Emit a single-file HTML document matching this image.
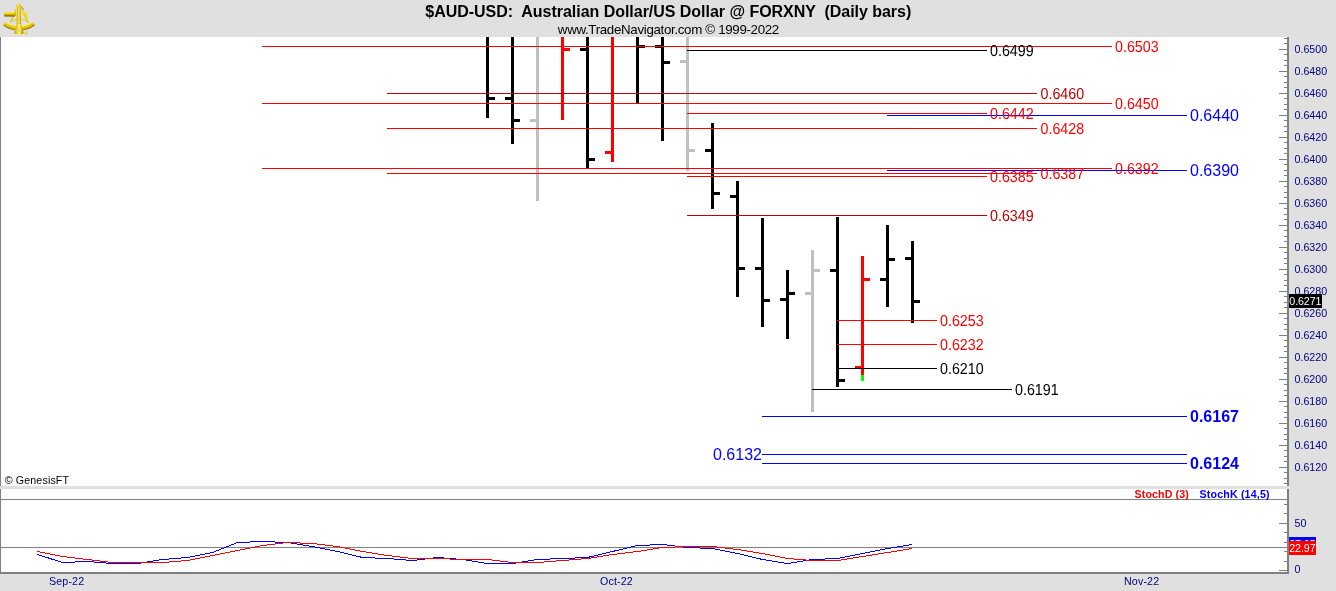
<!DOCTYPE html>
<html lang="en"><head><meta charset="utf-8">
<title>$AUD-USD: Australian Dollar/US Dollar @ FORXNY (Daily bars)</title>
<style>
html,body{margin:0;padding:0;background:#fff;overflow:hidden;}
body{width:1336px;height:591px;position:relative;font-family:"Liberation Sans", Arial, sans-serif;}
svg{position:absolute;left:0;top:0;display:block;}
text{font-family:"Liberation Sans", Arial, sans-serif;}
.ax{font-size:10.67px;fill:#000080;}
.lv{font-size:15.9px;text-rendering:geometricPrecision;}
.lb{font-size:16px;fill:#0000ff;}
.bb{font-size:16px;fill:#0000ff;font-weight:bold;}
</style></head><body>
<svg width="1336" height="591" viewBox="0 0 1336 591">
<rect x="0" y="0" width="1336" height="591" fill="#ffffff"/>
<g shape-rendering="crispEdges">
<rect x="0" y="0" width="1336" height="37" fill="#e0e0e0"/>
<rect x="1289" y="37" width="47" height="554" fill="#e0e0e0"/>
<rect x="0" y="574" width="1336" height="17" fill="#e0e0e0"/>
<rect x="0" y="486" width="1289" height="3" fill="#e0e0e0"/>
<rect x="0" y="37" width="1" height="449" fill="#808080"/>
<rect x="0" y="489" width="1" height="85" fill="#808080"/>
</g>
<g shape-rendering="crispEdges">
<rect x="486" y="37" width="3" height="81" fill="#000000"/>
<rect x="489" y="97" width="6" height="3" fill="#000000"/>
<rect x="511" y="37" width="3" height="107" fill="#000000"/>
<rect x="505" y="97" width="6" height="3" fill="#000000"/>
<rect x="514" y="119" width="6" height="3" fill="#000000"/>
<rect x="536" y="37" width="3" height="164" fill="#c0c0c0"/>
<rect x="530" y="119" width="6" height="3" fill="#c0c0c0"/>
<rect x="561" y="37" width="3" height="83" fill="#ff0000"/>
<rect x="564" y="48" width="6" height="3" fill="#ff0000"/>
<rect x="586" y="37" width="3" height="131" fill="#000000"/>
<rect x="580" y="48" width="6" height="3" fill="#000000"/>
<rect x="589" y="158" width="6" height="3" fill="#000000"/>
<rect x="611" y="37" width="3" height="125" fill="#ff0000"/>
<rect x="605" y="151" width="6" height="3" fill="#ff0000"/>
<rect x="636" y="37" width="3" height="66" fill="#000000"/>
<rect x="639" y="45" width="6" height="3" fill="#000000"/>
<rect x="661" y="37" width="3" height="104" fill="#000000"/>
<rect x="655" y="45" width="6" height="3" fill="#000000"/>
<rect x="664" y="61" width="6" height="3" fill="#000000"/>
<rect x="686" y="37" width="3" height="134" fill="#c0c0c0"/>
<rect x="680" y="60" width="6" height="3" fill="#c0c0c0"/>
<rect x="689" y="149" width="6" height="3" fill="#c0c0c0"/>
<rect x="711" y="123" width="3" height="86" fill="#000000"/>
<rect x="705" y="149" width="6" height="3" fill="#000000"/>
<rect x="714" y="192" width="6" height="3" fill="#000000"/>
<rect x="736" y="181" width="3" height="116" fill="#000000"/>
<rect x="730" y="195" width="6" height="3" fill="#000000"/>
<rect x="739" y="267" width="6" height="3" fill="#000000"/>
<rect x="761" y="218" width="3" height="109" fill="#000000"/>
<rect x="755" y="267" width="6" height="3" fill="#000000"/>
<rect x="764" y="299" width="6" height="3" fill="#000000"/>
<rect x="786" y="270" width="3" height="69" fill="#000000"/>
<rect x="780" y="298" width="6" height="3" fill="#000000"/>
<rect x="789" y="292" width="6" height="3" fill="#000000"/>
<rect x="811" y="250" width="3" height="162" fill="#c0c0c0"/>
<rect x="805" y="292" width="6" height="3" fill="#c0c0c0"/>
<rect x="814" y="269" width="6" height="3" fill="#c0c0c0"/>
<rect x="836" y="217" width="3" height="170" fill="#000000"/>
<rect x="830" y="269" width="6" height="3" fill="#000000"/>
<rect x="839" y="379" width="6" height="3" fill="#000000"/>
<rect x="861" y="256" width="3" height="119" fill="#ff0000"/>
<rect x="855" y="366" width="6" height="3" fill="#ff0000"/>
<rect x="864" y="278" width="6" height="3" fill="#ff0000"/>
<rect x="886" y="225" width="3" height="82" fill="#000000"/>
<rect x="880" y="278" width="6" height="3" fill="#000000"/>
<rect x="889" y="258" width="6" height="3" fill="#000000"/>
<rect x="911" y="241" width="3" height="82" fill="#000000"/>
<rect x="905" y="257" width="6" height="3" fill="#000000"/>
<rect x="914" y="300" width="6" height="3" fill="#000000"/>
<rect x="861" y="375" width="3" height="6" fill="#00ff00"/>
</g>
<g shape-rendering="crispEdges">
<rect x="262" y="46" width="850" height="1" fill="#ff0000"/>
<rect x="687" y="50" width="300" height="1" fill="#000000"/>
<rect x="387" y="93" width="650" height="1" fill="#c00000"/>
<rect x="262" y="103" width="850" height="1" fill="#ff0000"/>
<rect x="687" y="113" width="300" height="1" fill="#ff0000"/>
<rect x="887" y="115" width="300" height="1" fill="#0000ff"/>
<rect x="387" y="128" width="650" height="1" fill="#ff0000"/>
<rect x="262" y="168" width="850" height="1" fill="#ff0000"/>
<rect x="887" y="170" width="300" height="1" fill="#0000ff"/>
<rect x="387" y="173" width="650" height="1" fill="#ff0000"/>
<rect x="687" y="176" width="300" height="1" fill="#ff0000"/>
<rect x="687" y="215" width="300" height="1" fill="#c00000"/>
<rect x="837" y="320" width="100" height="1" fill="#ff0000"/>
<rect x="837" y="344" width="100" height="1" fill="#ff0000"/>
<rect x="837" y="368" width="100" height="1" fill="#000000"/>
<rect x="812" y="389" width="200" height="1" fill="#000000"/>
<rect x="762" y="416" width="425" height="1" fill="#0000ff"/>
<rect x="762" y="454" width="425" height="1" fill="#0000ff"/>
<rect x="762" y="463" width="425" height="1" fill="#0000ff"/>
</g>
<g shape-rendering="crispEdges">
<rect x="1287" y="37" width="2" height="449" fill="#808080"/>
<rect x="1284" y="38" width="3" height="1" fill="#808080"/>
<rect x="1284" y="43" width="3" height="1" fill="#808080"/>
<rect x="1279" y="49" width="8" height="1" fill="#808080"/>
<rect x="1284" y="54" width="3" height="1" fill="#808080"/>
<rect x="1284" y="60" width="3" height="1" fill="#808080"/>
<rect x="1284" y="65" width="3" height="1" fill="#808080"/>
<rect x="1279" y="71" width="8" height="1" fill="#808080"/>
<rect x="1284" y="76" width="3" height="1" fill="#808080"/>
<rect x="1284" y="82" width="3" height="1" fill="#808080"/>
<rect x="1284" y="87" width="3" height="1" fill="#808080"/>
<rect x="1279" y="93" width="8" height="1" fill="#808080"/>
<rect x="1284" y="98" width="3" height="1" fill="#808080"/>
<rect x="1284" y="104" width="3" height="1" fill="#808080"/>
<rect x="1284" y="109" width="3" height="1" fill="#808080"/>
<rect x="1279" y="115" width="8" height="1" fill="#808080"/>
<rect x="1284" y="120" width="3" height="1" fill="#808080"/>
<rect x="1284" y="126" width="3" height="1" fill="#808080"/>
<rect x="1284" y="131" width="3" height="1" fill="#808080"/>
<rect x="1279" y="137" width="8" height="1" fill="#808080"/>
<rect x="1284" y="142" width="3" height="1" fill="#808080"/>
<rect x="1284" y="148" width="3" height="1" fill="#808080"/>
<rect x="1284" y="153" width="3" height="1" fill="#808080"/>
<rect x="1279" y="159" width="8" height="1" fill="#808080"/>
<rect x="1284" y="164" width="3" height="1" fill="#808080"/>
<rect x="1284" y="170" width="3" height="1" fill="#808080"/>
<rect x="1284" y="175" width="3" height="1" fill="#808080"/>
<rect x="1279" y="181" width="8" height="1" fill="#808080"/>
<rect x="1284" y="186" width="3" height="1" fill="#808080"/>
<rect x="1284" y="192" width="3" height="1" fill="#808080"/>
<rect x="1284" y="197" width="3" height="1" fill="#808080"/>
<rect x="1279" y="203" width="8" height="1" fill="#808080"/>
<rect x="1284" y="208" width="3" height="1" fill="#808080"/>
<rect x="1284" y="214" width="3" height="1" fill="#808080"/>
<rect x="1284" y="219" width="3" height="1" fill="#808080"/>
<rect x="1279" y="225" width="8" height="1" fill="#808080"/>
<rect x="1284" y="230" width="3" height="1" fill="#808080"/>
<rect x="1284" y="236" width="3" height="1" fill="#808080"/>
<rect x="1284" y="241" width="3" height="1" fill="#808080"/>
<rect x="1279" y="247" width="8" height="1" fill="#808080"/>
<rect x="1284" y="252" width="3" height="1" fill="#808080"/>
<rect x="1284" y="258" width="3" height="1" fill="#808080"/>
<rect x="1284" y="263" width="3" height="1" fill="#808080"/>
<rect x="1279" y="269" width="8" height="1" fill="#808080"/>
<rect x="1284" y="274" width="3" height="1" fill="#808080"/>
<rect x="1284" y="280" width="3" height="1" fill="#808080"/>
<rect x="1284" y="285" width="3" height="1" fill="#808080"/>
<rect x="1279" y="291" width="8" height="1" fill="#808080"/>
<rect x="1284" y="296" width="3" height="1" fill="#808080"/>
<rect x="1284" y="302" width="3" height="1" fill="#808080"/>
<rect x="1284" y="307" width="3" height="1" fill="#808080"/>
<rect x="1279" y="313" width="8" height="1" fill="#808080"/>
<rect x="1284" y="318" width="3" height="1" fill="#808080"/>
<rect x="1284" y="324" width="3" height="1" fill="#808080"/>
<rect x="1284" y="329" width="3" height="1" fill="#808080"/>
<rect x="1279" y="335" width="8" height="1" fill="#808080"/>
<rect x="1284" y="340" width="3" height="1" fill="#808080"/>
<rect x="1284" y="346" width="3" height="1" fill="#808080"/>
<rect x="1284" y="351" width="3" height="1" fill="#808080"/>
<rect x="1279" y="357" width="8" height="1" fill="#808080"/>
<rect x="1284" y="362" width="3" height="1" fill="#808080"/>
<rect x="1284" y="368" width="3" height="1" fill="#808080"/>
<rect x="1284" y="373" width="3" height="1" fill="#808080"/>
<rect x="1279" y="379" width="8" height="1" fill="#808080"/>
<rect x="1284" y="384" width="3" height="1" fill="#808080"/>
<rect x="1284" y="390" width="3" height="1" fill="#808080"/>
<rect x="1284" y="395" width="3" height="1" fill="#808080"/>
<rect x="1279" y="401" width="8" height="1" fill="#808080"/>
<rect x="1284" y="406" width="3" height="1" fill="#808080"/>
<rect x="1284" y="412" width="3" height="1" fill="#808080"/>
<rect x="1284" y="417" width="3" height="1" fill="#808080"/>
<rect x="1279" y="423" width="8" height="1" fill="#808080"/>
<rect x="1284" y="428" width="3" height="1" fill="#808080"/>
<rect x="1284" y="434" width="3" height="1" fill="#808080"/>
<rect x="1284" y="439" width="3" height="1" fill="#808080"/>
<rect x="1279" y="445" width="8" height="1" fill="#808080"/>
<rect x="1284" y="450" width="3" height="1" fill="#808080"/>
<rect x="1284" y="456" width="3" height="1" fill="#808080"/>
<rect x="1284" y="461" width="3" height="1" fill="#808080"/>
<rect x="1279" y="467" width="8" height="1" fill="#808080"/>
<rect x="1284" y="472" width="3" height="1" fill="#808080"/>
<rect x="1284" y="478" width="3" height="1" fill="#808080"/>
<rect x="1284" y="483" width="3" height="1" fill="#808080"/>
</g>
<text class="ax" x="1294.5" y="53.3">0.6500</text>
<text class="ax" x="1294.5" y="75.3">0.6480</text>
<text class="ax" x="1294.5" y="97.3">0.6460</text>
<text class="ax" x="1294.5" y="119.3">0.6440</text>
<text class="ax" x="1294.5" y="141.3">0.6420</text>
<text class="ax" x="1294.5" y="163.3">0.6400</text>
<text class="ax" x="1294.5" y="185.3">0.6380</text>
<text class="ax" x="1294.5" y="207.3">0.6360</text>
<text class="ax" x="1294.5" y="229.3">0.6340</text>
<text class="ax" x="1294.5" y="251.3">0.6320</text>
<text class="ax" x="1294.5" y="273.3">0.6300</text>
<text class="ax" x="1294.5" y="295.3">0.6280</text>
<text class="ax" x="1294.5" y="317.3">0.6260</text>
<text class="ax" x="1294.5" y="339.3">0.6240</text>
<text class="ax" x="1294.5" y="361.3">0.6220</text>
<text class="ax" x="1294.5" y="383.3">0.6200</text>
<text class="ax" x="1294.5" y="405.3">0.6180</text>
<text class="ax" x="1294.5" y="427.3">0.6160</text>
<text class="ax" x="1294.5" y="449.3">0.6140</text>
<text class="ax" x="1294.5" y="471.3">0.6120</text>
<rect x="1289" y="294" width="33" height="14" fill="#000000" shape-rendering="crispEdges"/>
<text x="1289.3" y="305" style="font-size:10.67px;fill:#ffffff;letter-spacing:-0.08px;">0.6271</text>
<text class="lv" transform="translate(1115.0,51.85) scale(0.897,1)" fill="#ff0000">0.6503</text>
<text class="lv" transform="translate(990.0,55.85) scale(0.897,1)" fill="#000000">0.6499</text>
<text class="lv" transform="translate(1040.5,98.85) scale(0.897,1)" fill="#c00000">0.6460</text>
<text class="lv" transform="translate(1115.0,108.85) scale(0.897,1)" fill="#ff0000">0.6450</text>
<text class="lv" transform="translate(990.0,118.85) scale(0.897,1)" fill="#ff0000">0.6442</text>
<text class="lv" transform="translate(1040.5,133.85) scale(0.897,1)" fill="#ff0000">0.6428</text>
<text class="lv" transform="translate(1115.0,173.85) scale(0.897,1)" fill="#ff0000">0.6392</text>
<text class="lv" transform="translate(1040.5,178.85) scale(0.897,1)" fill="#ff0000">0.6387</text>
<text class="lv" transform="translate(990.0,181.85) scale(0.897,1)" fill="#ff0000">0.6385</text>
<text class="lv" transform="translate(990.0,220.85) scale(0.897,1)" fill="#c00000">0.6349</text>
<text class="lv" transform="translate(940.0,325.85) scale(0.897,1)" fill="#ff0000">0.6253</text>
<text class="lv" transform="translate(940.0,349.85) scale(0.897,1)" fill="#ff0000">0.6232</text>
<text class="lv" transform="translate(940.0,373.85) scale(0.897,1)" fill="#000000">0.6210</text>
<text class="lv" transform="translate(1015.0,394.85) scale(0.897,1)" fill="#000000">0.6191</text>
<text class="lb" x="1190" y="121.20">0.6440</text>
<text class="lb" x="1190" y="176.20">0.6390</text>
<text class="lb" x="713" y="460.20">0.6132</text>
<text class="bb" x="1190" y="422.20">0.6167</text>
<text class="bb" x="1190" y="469.20">0.6124</text>
<text x="668.3" y="17" text-anchor="middle" style="font-size:16px;font-weight:bold;fill:#000;letter-spacing:-0.03px;white-space:pre;">$AUD-USD:  Australian Dollar/US Dollar @ FORXNY  (Daily bars)</text>
<text x="668.4" y="33.6" text-anchor="middle" style="font-size:13.33px;fill:#000;letter-spacing:-0.33px;">www.TradeNavigator.com © 1999-2022</text>
<text x="4.7" y="484" style="font-size:10.67px;fill:#000;letter-spacing:0.14px;">© GenesisFT</text>
<g shape-rendering="crispEdges">
<rect x="0" y="499" width="1288" height="1" fill="#808080"/>
<rect x="0" y="547" width="1288" height="1" fill="#808080"/>
<rect x="0" y="572" width="1289" height="2" fill="#808080"/>
<rect x="1287" y="489" width="2" height="85" fill="#808080"/>
<rect x="1279" y="570" width="8" height="1" fill="#808080"/>
<rect x="1284" y="561" width="3" height="1" fill="#808080"/>
<rect x="1284" y="551" width="3" height="1" fill="#808080"/>
<rect x="1284" y="542" width="3" height="1" fill="#808080"/>
<rect x="1284" y="532" width="3" height="1" fill="#808080"/>
<rect x="1279" y="523" width="8" height="1" fill="#808080"/>
<rect x="1284" y="513" width="3" height="1" fill="#808080"/>
<rect x="1284" y="504" width="3" height="1" fill="#808080"/>
<rect x="1289" y="537" width="27" height="14" fill="#0000ff"/>
</g>
<text x="1289.3" y="548" style="font-size:10.67px;fill:#ffffff;letter-spacing:-0.1px;">27.65</text>
<rect x="1289" y="541" width="27" height="14" fill="#ff0000" shape-rendering="crispEdges"/>
<text x="1289.3" y="552" style="font-size:10.67px;fill:#ffffff;letter-spacing:-0.1px;">22.97</text>
<text class="ax" x="1294.5" y="527">50</text>
<text class="ax" x="1294.5" y="573">0</text>
<text x="1134.5" y="498" style="font-size:10.67px;font-weight:bold;fill:#ff0000;letter-spacing:0.11px;">StochD (3)</text>
<text x="1199.5" y="498" style="font-size:10.67px;font-weight:bold;fill:#0000ff;letter-spacing:0.16px;">StochK (14,5)</text>
<polyline points="37.5,554.5 62.5,562.5 87.5,561.5 112.5,563.5 137.5,563.5 162.5,559.5 187.5,557.5 212.5,552.5 237.5,542.5 262.5,541.5 287.5,542.5 312.5,546.5 337.5,551.5 362.5,557.5 387.5,558.5 412.5,560.5 437.5,557.5 462.5,559.5 487.5,563.5 512.5,563.5 537.5,559.5 562.5,558.5 587.5,557.5 612.5,551.5 637.5,545.5 662.5,544.5 687.5,547.5 712.5,548.5 737.5,553.5 762.5,559.5 787.5,563.5 812.5,559.5 837.5,558.5 862.5,553.5 887.5,548.5 912.5,544.5" fill="none" stroke="#0000ff" stroke-width="1" shape-rendering="crispEdges"/>
<polyline points="37.5,551.5 62.5,556.5 87.5,559.5 112.5,562.5 137.5,562.5 162.5,562.5 187.5,560.5 212.5,555.5 237.5,550.5 262.5,545.5 287.5,542.5 312.5,543.5 337.5,546.5 362.5,551.5 387.5,555.5 412.5,558.5 437.5,558.5 462.5,559.5 487.5,559.5 512.5,562.5 537.5,562.5 562.5,560.5 587.5,558.5 612.5,554.5 637.5,551.5 662.5,547.5 687.5,546.5 712.5,546.5 737.5,549.5 762.5,553.5 787.5,558.5 812.5,560.5 837.5,560.5 862.5,556.5 887.5,552.5 912.5,548.5" fill="none" stroke="#ff0000" stroke-width="1" shape-rendering="crispEdges"/>
<text class="ax" x="49" y="585" style="letter-spacing:0.15px">Sep-22</text>
<text class="ax" x="600" y="585" style="letter-spacing:0.15px">Oct-22</text>
<text class="ax" x="1124" y="585" style="letter-spacing:0.15px">Nov-22</text>
<g id="logo">
<defs>
<radialGradient id="limb" gradientUnits="userSpaceOnUse" cx="19" cy="4" r="26.6"><stop offset="0.82" stop-color="#fff25a"/><stop offset="0.88" stop-color="#f0d20c"/><stop offset="0.95" stop-color="#d4b000"/><stop offset="1" stop-color="#7a6000"/></radialGradient>
<linearGradient id="tele" x1="0" y1="0" x2="0" y2="1"><stop offset="0" stop-color="#fff25a"/><stop offset="0.3" stop-color="#f4dc1c"/><stop offset="0.65" stop-color="#c8a400"/><stop offset="1" stop-color="#5a4600"/></linearGradient>
<linearGradient id="col" x1="0" y1="0" x2="1" y2="0"><stop offset="0" stop-color="#c4a200"/><stop offset="0.3" stop-color="#eccc0c"/><stop offset="0.55" stop-color="#fff684"/><stop offset="0.72" stop-color="#e8c808"/><stop offset="1" stop-color="#9a7c00"/></linearGradient>
</defs>
<path d="M3 25.2 A26.5 26.5 0 0 0 35 25.2 L32.1 21.7 A22 22 0 0 1 5.9 21.7 Z" fill="url(#limb)"/>
<path d="M16.2 9 L10.4 22.6 M21.6 9 L28.3 23" stroke="#e2c408" stroke-width="1.3" fill="none"/>
<path d="M12 20.6 Q19 18.4 26.6 20.6" stroke="#e8cc10" stroke-width="1.1" fill="none"/>
<path d="M22.6 10.5 L23.2 16 M23 10.8 L26.2 15.6 L26.4 11.5 M26.5 16 L27.6 20" stroke="#f6de28" stroke-width="1.4" fill="none"/>
<path d="M21.4 7.2 L23.6 9.2" stroke="#4a3c00" stroke-width="0.9" fill="none" opacity="0.8"/>
<rect x="4.1" y="11.9" width="11" height="4.6" rx="0.9" fill="url(#tele)"/>
<rect x="14.6" y="12.4" width="1.6" height="3.8" fill="#d4b200"/>
<path d="M17 7.2 L20.5 7.2 L20.9 24.4 L16.7 24.4 Z" fill="url(#col)"/>
<path d="M18.6 3 Q20.6 3.6 21 5.6 L22.5 6.2 L22.3 7.3 L15.4 7.3 L15.3 6.2 L16.6 5.6 Q16.8 3.6 18.6 3 Z" fill="#ecd010"/>
<path d="M18.6 3.2 L17 5.8 L19 5.8 Z" fill="#fff88a"/>
<path d="M16.3 24.2 L21.2 24.2 L23.7 33.4 Q19 35.4 13.9 33.4 Z" fill="url(#col)"/>
<rect x="15.6" y="29.3" width="6.4" height="1.5" fill="#d9cf8a"/>
<path d="M23.4 32.4 L26.2 32.4 L26.2 31.4 L27.2 31.4 L27.2 34.6 L26.2 34.6 L26.2 33.8 L23.6 33.8 Z" fill="#e8cc10"/>
</g>
</svg>
</body></html>
